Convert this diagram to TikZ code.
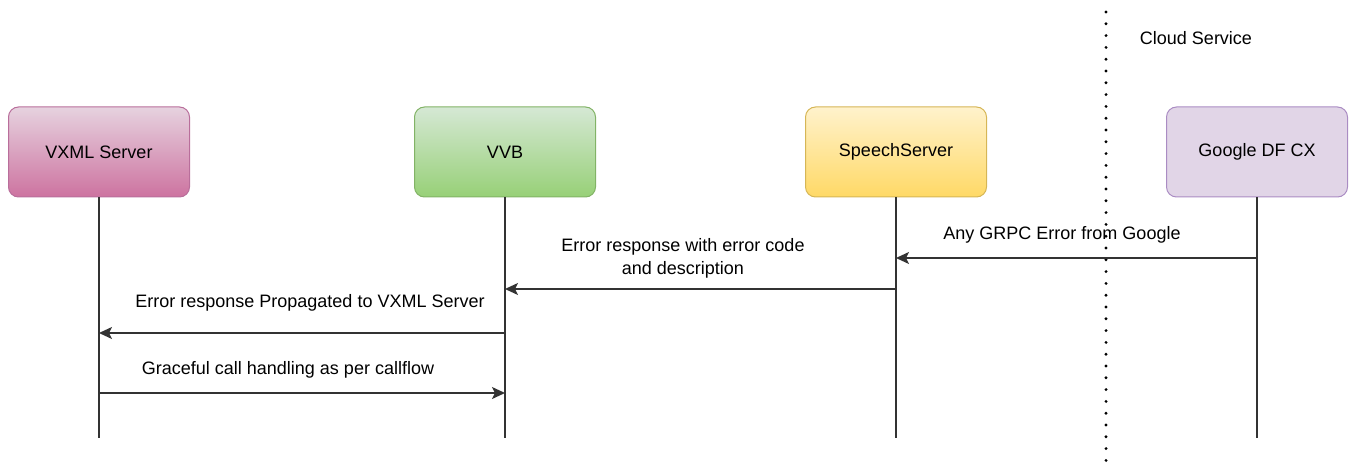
\documentclass[tikz,border=0pt]{standalone}
\usepackage{fontspec}
\setmainfont{Liberation Sans}
\usetikzlibrary{arrows.meta}
\definecolor{lineC}{HTML}{333333}
\tikzset{
  actor/.style={rounded corners=10pt, minimum width=181pt, minimum height=90pt, line width=1pt, inner sep=0pt, font=\fontsize{18}{21}\selectfont, text=black},
  lifeline/.style={draw=lineC, line width=1.3pt},
  msg/.style={draw=lineC, line width=1.7pt, -{Stealth[length=13pt,width=12pt,inset=3pt]}},
  lbl/.style={font=\fontsize{18}{23}\selectfont, text=black, align=center, inner sep=0pt},
}
\begin{document}
\begin{tikzpicture}[x=1pt,y=-1pt]
\useasboundingbox (0,0) rectangle (1349,470);
% boxes
\node[actor, draw={rgb,255:red,185;green,110;blue,155}, top color={rgb,255:red,230;green,210;blue,223}, bottom color={rgb,255:red,205;green,115;blue,160}] (vxml) at (99,152) {VXML Server};
\node[actor, draw={rgb,255:red,130;green,179;blue,102}, top color={rgb,255:red,213;green,232;blue,212}, bottom color={rgb,255:red,151;green,208;blue,119}] (vvb) at (505,152) {VVB};
\node[actor, draw={rgb,255:red,214;green,182;blue,86}, top color={rgb,255:red,255;green,242;blue,204}, bottom color={rgb,255:red,255;green,217;blue,102}] (ss) at (896,152) {SpeechServer};
\node[actor, draw={rgb,255:red,170;green,140;blue,195}, fill={rgb,255:red,225;green,213;blue,231}] (gdf) at (1257,152) {Google DF CX};
% lifeline ends
\coordinate (vxmlE) at (99,438);
\coordinate (vvbE) at (505,438);
\coordinate (ssE) at (896,438);
\coordinate (gdfE) at (1257,438);
\draw[lifeline] (vxml.south) -- (vxmlE);
\draw[lifeline] (vvb.south) -- (vvbE);
\draw[lifeline] (ss.south) -- (ssE);
\draw[lifeline] (gdf.south) -- (gdfE);
% boundary
\coordinate (bTop) at (1106,12);
\coordinate (bBot) at (1106,470);
\draw[black, line width=3.2pt, line cap=round, dash pattern=on 0pt off 11.8pt] (bTop) -- (bBot);
\node[lbl] (cloud) at (1196,38) {Cloud Service};
% message points
\coordinate (m1s) at (1257,258); \coordinate (m1e) at (896,258);
\coordinate (m2s) at (896,289);  \coordinate (m2e) at (505,289);
\coordinate (m3s) at (505,333);  \coordinate (m3e) at (99,333);
\coordinate (m4s) at (99,393);   \coordinate (m4e) at (505,393);
\draw[msg] (m1s) -- (m1e);
\draw[msg] (m2s) -- (m2e);
\draw[msg] (m3s) -- (m3e);
\draw[msg] (m4s) -- (m4e);
% labels
\node[lbl] (l1) at (1062,235) {Any GRPC Error from Google};
\node[lbl] (l2) at (683,258) {Error response with error code\\and description};
\node[lbl] (l3) at (310,303) {Error response Propagated to VXML Server};
\node[lbl] (l4) at (288,370) {Graceful call handling as per callflow};
\end{tikzpicture}
\end{document}
